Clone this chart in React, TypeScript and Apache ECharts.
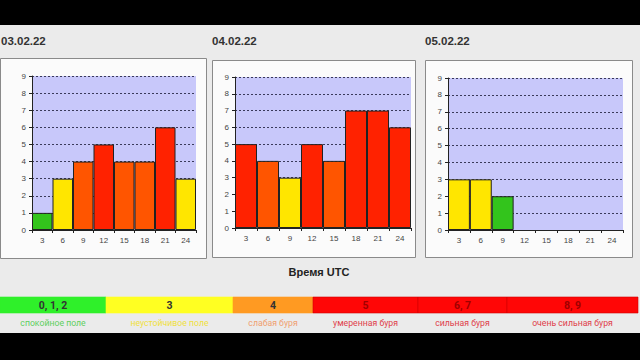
import React, { useEffect, useRef } from "react";
import * as echarts from "echarts";

const hours = ["3", "6", "9", "12", "15", "18", "21", "24"];
const dates = ["03.02.22", "04.02.22", "05.02.22"];
const kp0302 = [1, 3, 4, 5, 4, 4, 6, 3];
const kp0402 = [5, 4, 3, 5, 4, 7, 7, 6];
const kp0502: (number | null)[] = [3, 3, 2, null, null, null, null, null];
const yTicks = [0, 9];
const scaleLevels = ["0, 1, 2", "3", "4", "5", "6, 7", "8, 9"];
const scaleNames = [
  "спокойное поле",
  "неустойчивое поле",
  "слабая буря",
  "умеренная буря",
  "сильная буря",
  "очень сильная буря",
];
const axisTitle = "Время UTC";

function kpColor(v: number) {
  if (v <= 2) return "#33c41c";
  if (v === 3) return "#ffe600";
  if (v === 4) return "#ff5500";
  return "#ff2200";
}

const panels = [
  { box: [0, 58, 206, 200], grid: [32, 76, 164, 154], title: [1, 41] },
  { box: [212, 60, 203, 197], grid: [235, 77, 176, 151], title: [212, 41] },
  { box: [425, 60, 207, 197], grid: [448, 78, 175, 152], title: [425, 41] },
];
const series = [kp0302, kp0402, kp0502];

const legendSegs = [
  { x0: 0, x1: 106, fill: "#2ff02a", text: "#5fcf5f" },
  { x0: 106, x1: 233, fill: "#ffff22", text: "#f0e040" },
  { x0: 233, x1: 313, fill: "#ff9a22", text: "#f0a070" },
  { x0: 313, x1: 418, fill: "#ff0606", text: "#e0404a" },
  { x0: 418, x1: 507, fill: "#ff0606", text: "#e0404a" },
  { x0: 507, x1: 638, fill: "#ff0606", text: "#e0404a" },
];

export default function App() {
  const ref = useRef<HTMLDivElement>(null);
  useEffect(() => {
    if (!ref.current) return;
    const chart = echarts.init(ref.current, null, { renderer: "svg" });
    const graphic: any[] = [
      { type: "rect", shape: { x: 0, y: 0, width: 640, height: 25 }, style: { fill: "#000" }, z: -5 },
      { type: "rect", shape: { x: 0, y: 333, width: 640, height: 27 }, style: { fill: "#000" }, z: -5 },
    ];
    panels.forEach((p, i) => {
      graphic.push({
        type: "rect",
        shape: { x: p.box[0] + 0.5, y: p.box[1] + 0.5, width: p.box[2], height: p.box[3] },
        style: { fill: "#fbfbfb", stroke: "#8a8a8a", lineWidth: 1 },
        z: -5,
      });
      graphic.push({
        type: "text",
        x: p.title[0],
        y: p.title[1],
        style: {
          text: dates[i],
          fill: "#333",
          font: "bold 11.5px 'Liberation Sans', Arial, sans-serif",
          textVerticalAlign: "middle",
        },
      });
    });
    graphic.push({
      type: "text",
      x: 319,
      y: 272,
      style: {
        text: axisTitle,
        fill: "#222",
        font: "bold 11px 'Liberation Sans', Arial, sans-serif",
        textAlign: "center",
        textVerticalAlign: "middle",
      },
    });
    legendSegs.forEach((s, i) => {
      graphic.push({
        type: "rect",
        shape: { x: s.x0, y: 297, width: s.x1 - s.x0, height: 16 },
        style: { fill: s.fill, stroke: i >= 3 ? "#d00000" : s.fill, lineWidth: 0.6 },
      });
      const cx = (s.x0 + s.x1) / 2;
      graphic.push({
        type: "text",
        x: cx,
        y: 305,
        style: {
          text: scaleLevels[i],
          fill: i >= 3 ? "#a00000" : "#333",
          font: "bold 10.5px Roboto, sans-serif",
          textAlign: "center",
          textVerticalAlign: "middle",
        },
      });
      graphic.push({
        type: "text",
        x: cx,
        y: 323,
        style: {
          text: scaleNames[i],
          fill: s.text,
          font: "8.7px Roboto, sans-serif",
          textAlign: "center",
          textVerticalAlign: "middle",
        },
      });
    });

    const option: any = {
      animation: false,
      backgroundColor: "#ebebeb",
      graphic,
      grid: panels.map((p) => ({
        left: p.grid[0],
        top: p.grid[1],
        width: p.grid[2],
        height: p.grid[3],
        show: true,
        backgroundColor: "#c8c8fa",
        borderWidth: 0,
      })),
      xAxis: panels.map((_, i) => ({
        type: "category",
        gridIndex: i,
        data: hours,
        axisLine: { lineStyle: { color: "#222", width: 1 } },
        axisTick: { show: true, length: 3, lineStyle: { color: "#222" } },
        axisLabel: { color: "#444", fontSize: 8, margin: 6, fontFamily: "'Liberation Sans', Arial" },
      })),
      yAxis: panels.map((_, i) => ({
        type: "value",
        gridIndex: i,
        min: yTicks[0],
        max: yTicks[1],
        interval: 1,
        axisLine: { show: true, lineStyle: { color: "#222", width: 1 } },
        axisTick: { show: true, length: 3, lineStyle: { color: "#222" } },
        axisLabel: { color: "#444", fontSize: 8, margin: 6, fontFamily: "'Liberation Sans', Arial" },
        splitLine: { show: true, lineStyle: { color: "#3a3a5a", type: [2, 2], width: 1 } },
      })),
      series: series.map((d, i) => ({
        type: "bar",
        xAxisIndex: i,
        yAxisIndex: i,
        barCategoryGap: "0%",
        data: d.map((v) =>
          v == null
            ? null
            : { value: v, itemStyle: { color: kpColor(v), borderColor: "#222", borderWidth: 1 } }
        ),
      })),
    };
    chart.setOption(option);
    return () => chart.dispose();
  }, []);
  return (
    <div
      ref={ref}
      style={{ position: "absolute", left: 0, top: 0, width: 640, height: 360 }}
    />
  );
}
